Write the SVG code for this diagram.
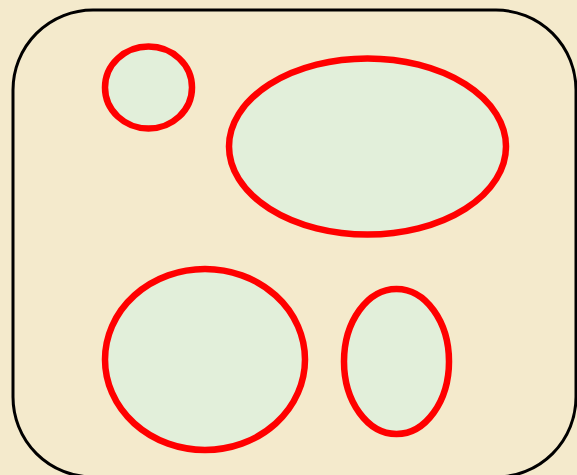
<svg xmlns="http://www.w3.org/2000/svg" width="577" height="475" viewBox="0 0 577 475">
<style>
.frame{fill:none;stroke:#000;stroke-width:3}
.blob{fill:#E2EFDA;stroke:#FF0000;stroke-width:6.5}
</style>
<rect x="0" y="0" width="577" height="475" fill="#F4EACC"/>
<g id="container"><rect class="frame" x="13" y="10" width="563" height="467" rx="80" ry="80"/></g>
<g id="connectors"></g>
<g id="node1"><ellipse class="blob" cx="148.5" cy="87.5" rx="43.5" ry="41"/></g>
<g id="node2"><ellipse class="blob" cx="367.5" cy="146.5" rx="138.5" ry="88"/></g>
<g id="node3"><ellipse class="blob" cx="205" cy="359.5" rx="100" ry="90.5"/></g>
<g id="node4"><ellipse class="blob" cx="396.5" cy="361.5" rx="52.5" ry="72.5"/></g>
</svg>
